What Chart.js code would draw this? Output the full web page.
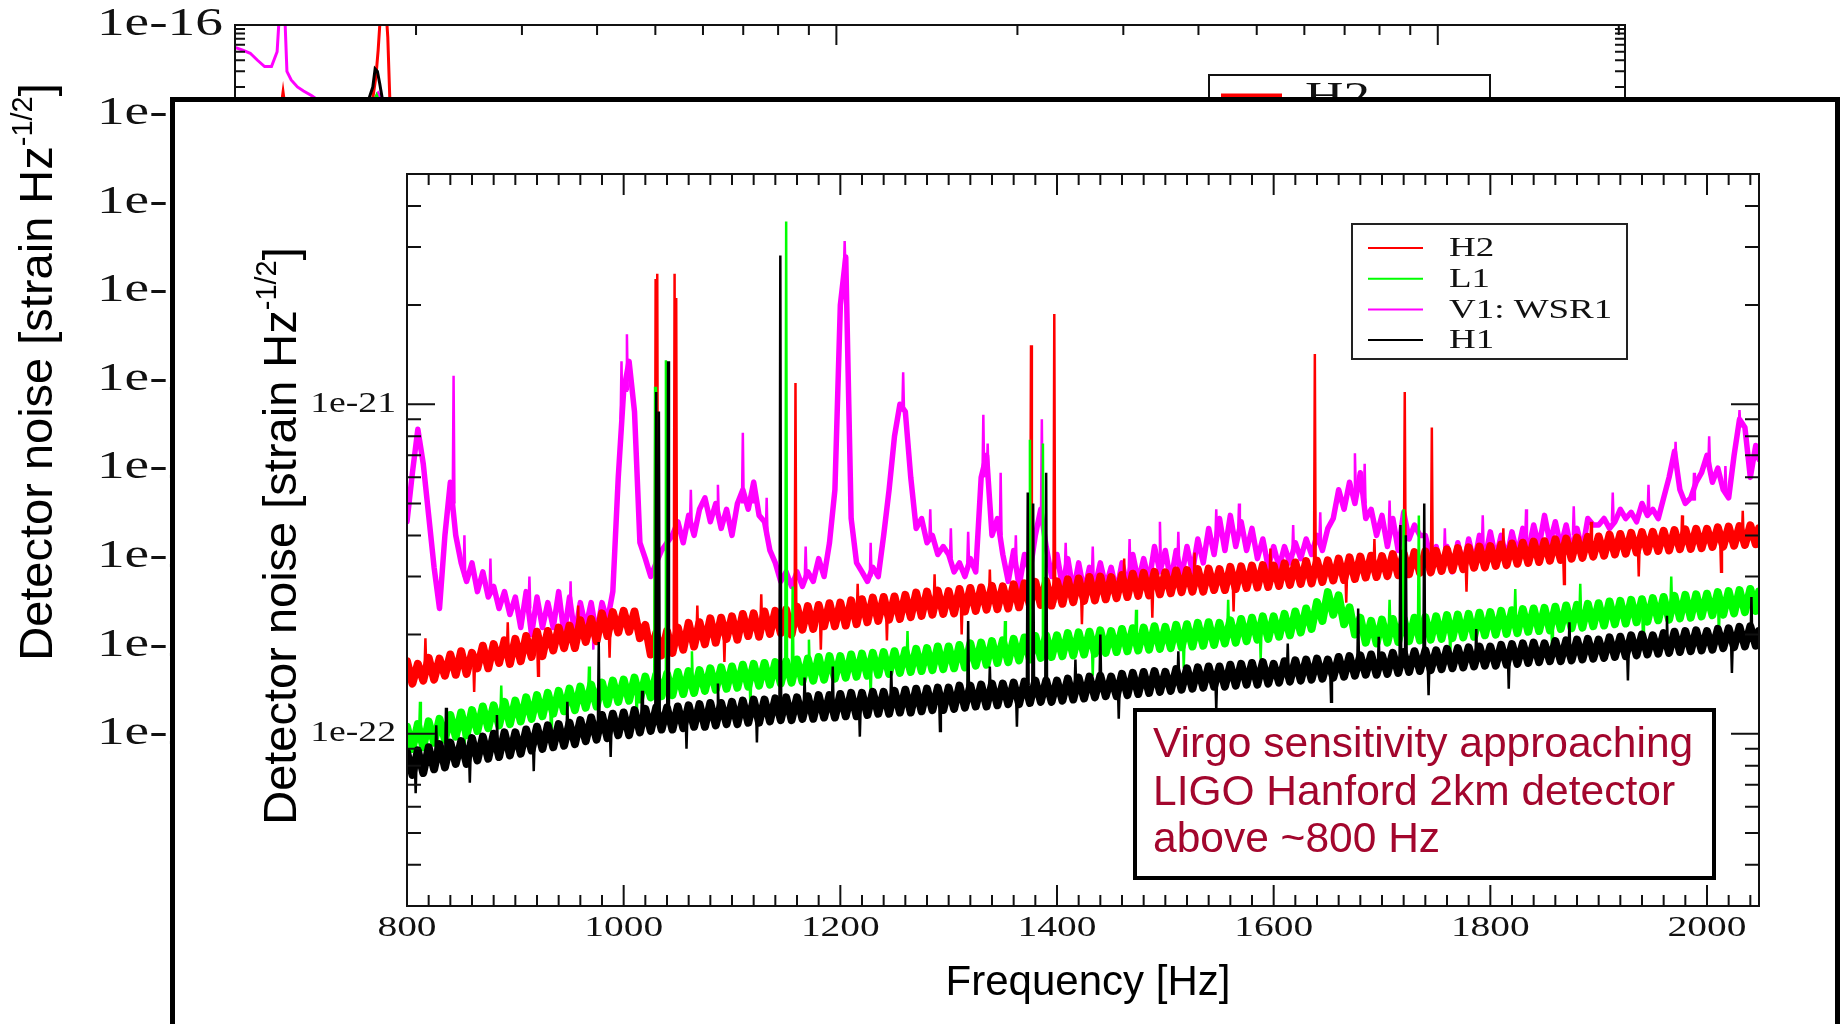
<!DOCTYPE html>
<html>
<head>
<meta charset="utf-8">
<script src="https://cdn.jsdelivr.net/npm/chart.js@4.4.1/dist/chart.umd.min.js"></script>
<style>
html,body{margin:0;padding:0;background:#fff;overflow:hidden;width:1841px;height:1024px;}
canvas{position:absolute;left:0;top:0;}
</style>
</head>
<body>
<canvas id="bg" width="1841" height="1024"></canvas>
<canvas id="fg" width="1841" height="1024"></canvas>
<script>
// ===================== DATA =====================
// Foreground (zoomed) spectrum, values in units of 1e-23 strain/sqrt(Hz)
const UNIT = 1e-23;
const freqHz = [
 800,805,810,815,820,825,830,835,840,845,850,855,860,865,870,875,880,885,890,895,
 900,905,910,915,920,925,930,935,940,945,950,955,960,965,970,975,980,985,990,995,
 1000,1005,1010,1015,1020,1025,1030,1035,1040,1045,1050,1055,1060,1065,1070,1075,1080,1085,1090,1095,
 1100,1105,1110,1115,1120,1125,1130,1135,1140,1145,1150,1155,1160,1165,1170,1175,1180,1185,1190,1195,
 1200,1205,1210,1215,1220,1225,1230,1235,1240,1245,1250,1255,1260,1265,1270,1275,1280,1285,1290,1295,
 1300,1305,1310,1315,1320,1325,1330,1335,1340,1345,1350,1355,1360,1365,1370,1375,1380,1385,1390,1395,
 1400,1405,1410,1415,1420,1425,1430,1435,1440,1445,1450,1455,1460,1465,1470,1475,1480,1485,1490,1495,
 1500,1505,1510,1515,1520,1525,1530,1535,1540,1545,1550,1555,1560,1565,1570,1575,1580,1585,1590,1595,
 1600,1605,1610,1615,1620,1625,1630,1635,1640,1645,1650,1655,1660,1665,1670,1675,1680,1685,1690,1695,
 1700,1705,1710,1715,1720,1725,1730,1735,1740,1745,1750,1755,1760,1765,1770,1775,1780,1785,1790,1795,
 1800,1805,1810,1815,1820,1825,1830,1835,1840,1845,1850,1855,1860,1865,1870,1875,1880,1885,1890,1895,
 1900,1905,1910,1915,1920,1925,1930,1935,1940,1945,1950,1955,1960,1965,1970,1975,1980,1985,1990,1995,
 2000,2005,2010,2015,2020,2025,2030,2035,2040,2045,2048
];
const h2Values = [
 16.6,14.2,16.3,14.5,17.0,14.6,16.9,15.0,17.4,15.1,17.8,15.2,17.6,15.8,18.5,15.8,18.7,16.4,19.2,16.3,
 19.4,16.6,19.8,17.1,20.4,17.2,20.5,17.9,21.0,18.2,21.3,18.2,22.1,19.0,22.3,19.1,23.2,19.8,23.4,20.3,
 23.6,20.4,23.5,19.5,21.4,17.4,20.2,17.3,20.5,17.6,21.0,18.0,21.7,18.4,21.8,18.7,22.4,18.9,22.5,19.4,
 22.7,19.3,23.1,19.8,23.2,19.7,23.5,20.1,23.6,20.2,23.8,20.0,24.3,20.7,24.4,20.8,24.6,21.2,24.9,21.2,
 25.0,21.3,25.4,21.5,25.6,21.8,25.9,22.0,26.0,22.2,26.1,22.3,26.4,22.6,26.8,22.8,27.0,23.0,27.2,23.1,
 27.1,23.2,27.5,23.5,27.7,23.6,27.8,23.8,28.1,23.9,28.0,24.0,28.4,24.2,28.6,24.5,28.9,24.6,29.1,24.5,
 29.0,24.8,29.4,25.1,29.6,25.3,29.9,25.4,30.0,25.6,29.9,25.8,30.3,26.0,30.6,26.2,30.8,26.3,31.0,26.5,
 30.9,26.7,31.3,26.9,31.4,27.0,31.6,27.0,31.7,27.3,31.6,27.3,32.1,27.5,32.2,27.7,32.4,27.8,32.5,27.9,
 32.4,28.1,32.9,28.3,33.1,28.5,33.4,28.6,33.5,28.9,33.6,29.2,34.0,29.3,34.3,29.5,34.5,29.8,34.7,29.9,
 34.6,30.1,35.1,30.3,35.3,30.5,35.6,30.8,35.8,30.9,35.9,31.2,36.3,31.4,36.6,31.6,36.8,31.9,37.0,32.0,
 37.1,32.3,37.5,32.5,37.8,32.8,38.0,33.0,38.3,33.2,38.4,33.5,38.9,33.7,39.1,34.0,39.4,34.2,39.6,34.5,
 39.7,34.7,40.2,35.0,40.4,35.2,40.7,35.5,40.9,35.7,41.0,35.9,41.3,36.0,41.5,36.3,41.7,36.4,41.9,36.6,
 41.9,36.9,42.3,37.0,42.5,37.2,42.7,37.4,42.9,37.6,42.0
];
const l1Values = [
 10.5,9.0,10.7,9.1,10.9,9.4,11.1,9.6,11.4,9.8,11.6,9.9,11.8,10.2,12.1,10.4,12.2,10.6,12.5,10.7,
 12.6,10.9,12.9,11.1,13.1,11.3,13.3,11.5,13.5,11.7,13.7,11.8,13.9,12.0,14.1,12.1,14.3,12.3,14.5,12.5,
 14.6,12.6,14.8,12.7,14.9,12.9,15.1,13.0,15.2,13.1,15.4,13.2,15.5,13.3,15.6,13.5,15.8,13.6,15.9,13.7,
 16.0,13.8,16.2,13.9,16.3,14.0,16.4,14.1,16.5,14.2,16.6,14.3,16.8,14.4,16.9,14.5,17.1,14.6,17.2,14.7,
 17.2,14.8,17.4,14.9,17.5,15.0,17.6,15.1,17.7,15.2,17.8,15.3,17.9,15.4,18.1,15.5,18.2,15.6,18.4,15.7,
 18.4,15.8,18.6,15.9,18.8,16.1,18.9,16.2,19.1,16.4,19.2,16.5,19.4,16.7,19.6,16.8,19.8,17.0,19.9,17.1,
 19.9,17.2,20.2,17.3,20.3,17.4,20.4,17.5,20.6,17.6,20.5,17.7,20.8,17.8,20.9,17.9,21.0,18.0,21.2,18.1,
 21.1,18.2,21.4,18.3,21.5,18.4,21.7,18.5,21.8,18.6,21.7,18.8,22.1,18.9,22.3,19.1,22.5,19.3,22.7,19.4,
 22.7,19.7,23.1,19.9,23.5,20.3,24.0,20.8,25.1,22.0,26.9,23.0,26.3,21.5,24.2,20.0,22.5,18.9,22.0,18.8,
 22.2,18.9,22.3,19.0,22.4,19.1,22.5,19.2,22.6,19.3,22.7,19.4,22.9,19.5,23.0,19.6,23.1,19.7,23.3,19.9,
 23.4,20.0,23.6,20.1,23.7,20.2,23.9,20.4,24.0,20.5,24.1,20.6,24.3,20.8,24.5,20.9,24.6,21.0,24.8,21.2,
 24.9,21.3,25.2,21.5,25.3,21.6,25.5,21.8,25.6,21.9,25.8,22.1,26.0,22.2,26.2,22.4,26.4,22.5,26.5,22.7,
 26.6,22.9,26.9,23.0,27.1,23.2,27.3,23.4,27.5,23.6,27.0
];
const v1Values = [
 44,62,84,66,46,32,24,40,58,40,33,29,33,27,31,26,28,24,27,23,
 26,21,27,20,26,21,25,21,27,20,26,20,25,21,25,20,25,22,27,60,
 110,135,95,38,34,30,33,36,38,40,44,38,46,40,48,52,44,50,42,48,
 40,50,55,48,58,46,44,36,33,29,31,28,31,28,31,29,34,30,38,55,
 200,280,45,33,31,29,32,30,40,55,80,100,95,60,42,45,38,40,35,37,
 35,31,33,30,34,31,60,70,40,45,35,29,36,28,35,31,40,48,37,30,
 35,28,34,27,33,27,32,28,33,28,32,27,33,28,35,29,34,29,37,31,
 36,29,36,30,37,31,39,33,42,35,45,36,46,37,44,36,42,34,39,32,
 37,32,37,33,38,34,39,35,40,36,42,45,55,48,58,50,62,45,48,40,
 46,37,45,36,47,39,43,40,40,34,37,31,37,31,38,32,39,33,40,34,
 41,34,40,34,41,35,42,36,43,37,46,38,44,37,43,36,42,36,45,43,
 43,45,42,44,48,45,47,44,50,46,48,45,52,60,72,55,50,52,58,62,
 70,58,64,55,52,70,90,85,60,75,68
];
const h1Values = [
 8.8,7.5,8.9,7.6,9.1,7.8,9.3,7.9,9.4,8.1,9.5,8.1,9.7,8.3,9.8,8.4,10.0,8.5,10.1,8.6,
 10.1,8.7,10.3,8.9,10.5,9.0,10.6,9.1,10.7,9.2,10.8,9.3,11.0,9.5,11.2,9.6,11.4,9.7,11.5,9.9,
 11.6,9.9,11.8,10.1,11.9,10.2,12.0,10.3,12.0,10.3,12.1,10.4,12.2,10.5,12.3,10.5,12.4,10.6,12.4,10.7,
 12.5,10.7,12.6,10.8,12.7,10.8,12.7,10.9,12.8,11.0,12.9,11.0,12.9,11.1,13.0,11.1,13.1,11.2,13.1,11.2,
 13.2,11.3,13.3,11.3,13.3,11.4,13.4,11.5,13.4,11.5,13.5,11.6,13.6,11.6,13.7,11.7,13.7,11.8,13.8,11.8,
 13.8,11.9,14.0,12.0,14.0,12.1,14.1,12.1,14.2,12.2,14.2,12.3,14.3,12.3,14.4,12.4,14.5,12.5,14.5,12.5,
 14.5,12.6,14.7,12.7,14.8,12.8,14.9,12.9,15.0,13.0,14.9,13.0,15.2,13.1,15.3,13.2,15.4,13.3,15.5,13.4,
 15.4,13.5,15.7,13.6,15.8,13.7,15.9,13.8,16.0,13.9,16.0,13.9,16.2,14.0,16.3,14.1,16.4,14.1,16.5,14.2,
 16.3,14.3,16.6,14.4,16.7,14.5,16.8,14.6,16.9,14.7,16.8,14.8,17.1,14.9,17.2,15.0,17.3,15.1,17.4,15.1,
 17.3,15.2,17.6,15.3,17.7,15.4,17.8,15.5,17.9,15.6,17.9,15.7,18.1,15.8,18.2,15.9,18.3,16.0,18.4,16.1,
 18.4,16.1,18.6,16.2,18.7,16.3,18.8,16.4,18.9,16.5,18.8,16.6,19.1,16.6,19.2,16.7,19.3,16.8,19.4,16.9,
 19.3,17.0,19.6,17.1,19.7,17.2,19.9,17.3,20.0,17.4,19.9,17.5,20.2,17.6,20.4,17.7,20.5,17.8,20.6,17.9,
 20.5,18.0,20.8,18.2,20.9,18.3,21.1,18.4,21.2,18.5,20.5
];
// Narrow lines and noise excursions: [frequency Hz, floor value, line value] in units of 1e-23
const h2Lines = [[1029.5,19,240],[1031,19,249],[1047,19,249],[1048.5,19,210],[1158.6,21,116],[1376,25,151],[1397.5,25,188],[1638,30,142],[1721,33,109],[1746,33,85],
 [817,15.7,19.5],[862,16.6,13.4],[893,17.6,21.8],[921,18.5,15.0],[958,19.7,24.5],[987,21.2,17.0],[1068,19.8,24.5],[1093,20.6,16.5],[1127,21.3,26.5],[1182,22.5,18.0],
 [1216,23.2,28.5],[1243,23.8,19.2],[1287,24.6,30.5],[1312,25.1,20.0],[1338,25.5,31.5],[1423,26.9,21.5],[1462,27.6,34.0],[1488,28.1,22.5],[1527,28.7,35.5],[1563,29.2,23.5],
 [1597,29.7,36.5],[1667,31.0,25.0],[1693,31.6,39.0],[1778,33.4,27.0],[1812,34.1,42.0],[1868,35.4,28.5],[1893,36.0,44.0],[1937,37.1,30.0],[1977,37.9,46.0],[2013,38.6,31.0],[2033,39.0,47.5]];
const l1Lines = [[1029,14,113],[1039,14,136],[1150,15.5,359],[1156,15,28],[1375,18,78],[1387,18,76],[1720,21,48],[1734,21,46],
 [812,10.0,12.5],[853,10.7,8.7],[887,11.4,14.0],[933,12.2,9.8],[968,12.9,16.0],[1012,13.7,11.0],[1063,14.3,17.8],[1117,15.0,12.0],[1171,15.6,19.3],[1228,16.2,13.0],
 [1262,16.6,20.5],[1318,17.3,13.8],[1352,17.7,22.0],[1433,18.8,15.0],[1473,19.2,23.8],[1517,19.7,15.8],[1558,20.3,25.5],[1588,20.8,16.8],[1707,20.6,25.5],[1763,21.3,17.0],
 [1823,22.1,27.5],[1857,22.5,18.0],[1883,22.9,28.5],[1941,23.6,19.0],[1967,24.1,30.0],[2011,24.9,20.0]];
const v1Lines = [[843,50,122],[998,90,135],[1003,110,163],[1110,50,82],[1120,50,59],[1204,250,313],[1258,95,125],[1332,60,93],[1336,60,76],[1348,40,62],[1386,45,90],[1495,34,44],[1675,55,71],[1684,50,66],[1971,65,77],[2002,65,80],[2030,85,96],
 [853,30,40],[877,27,34],[913,24,30],[951,23,29],[972,23,18],[1062,43,55],[1087,46,57],[1132,40,52],[1168,30,37],[1228,30,38],[1283,39,48],[1302,34,42],[1318,33,41],
 [1362,32,40],[1408,31,38],[1433,30,37],[1467,31,39],[1512,33,41],[1547,39,48],[1568,41,50],[1618,35,43],[1643,38,47],[1707,41,51],[1758,34,42],[1793,37,46],[1833,39,48],
 [1877,40,49],[1913,44,54],[1946,47,57],[1988,51,62],[2017,54,65]];
const h1Lines = [[836,8.5,12],[977,10.5,19],[1030,11,109],[1032.5,11,95],[1041,11,135],[1144.6,12,283],[1193,12,16],[1318,13,22],[1373,14,54],[1378,14,50],[1390,14,62],[1440,14,20],[1678,16,24],[1717,16,43],[1722,16,40],[1739,16,50],[2041,19,26],
 [808,8.3,6.6],[827,8.5,10.6],[858,8.9,7.1],[883,9.2,11.4],[917,9.6,7.7],[948,10.0,12.5],[988,10.6,8.5],[1017,11.0,13.5],[1058,11.3,9.0],[1087,11.5,14.2],[1123,11.8,9.4],
 [1167,12.0,14.8],[1218,12.3,9.8],[1247,12.5,15.5],[1292,12.8,10.2],[1338,13.0,16.0],[1363,13.2,10.5],[1417,13.5,16.8],[1457,13.9,11.1],[1512,14.4,17.8],[1547,14.7,11.8],
 [1613,15.2,18.8],[1653,15.6,12.5],[1697,16.0,19.7],[1743,16.4,13.1],[1787,16.8,20.8],[1817,17.1,13.7],[1873,17.6,21.8],[1927,18.1,14.5],[1963,18.5,22.8],[2023,19.1,15.3]];

const seriesLabels = ['H2','L1','V1: WSR1','H1'];
const seriesColors = ['#ff0000','#00ff00','#ff00ff','#000000'];

const xTickValues = [800,1000,1200,1400,1600,1800,2000];
const xTickLabels = ['800','1000','1200','1400','1600','1800','2000'];
const yTickValues = [1e-21,1e-22];
const yTickLabels = ['1e-21','1e-22'];

const noteLines = ['Virgo sensitivity approaching','LIGO Hanford 2km detector','above ~800 Hz'];

// Background (full-band) chart: only its top strip is visible
const bgV1Freq = [10,10.3,10.6,10.9,11.2,11.5,11.75,11.85,12.1,12.2,12.4,12.7,13.0,13.4,14.0,16.9,17.3,17.7,19.0];
const bgV1Vals = [5.6e-17,5.2e-17,4.8e-17,4.0e-17,3.4e-17,3.4e-17,5.0e-17,1.3e-16,1.3e-16,3.0e-17,2.4e-17,2.0e-17,1.8e-17,1.6e-17,1.3e-17,1.3e-17,1.7e-17,1.3e-17,1.2e-17];
const bgH2Freq = [11.5,11.95,12.02,12.09,12.5,16.9,17.15,17.3,17.45,17.85,17.95,18.1,18.5];
const bgH2Vals = [1.3e-17,1.3e-17,1.75e-17,1.3e-17,1.3e-17,1.3e-17,2.6e-17,5.2e-17,1.3e-16,1.3e-16,7.3e-17,1.3e-17,1.2e-17];
const bgH1Freq = [16.6,16.95,17.1,17.25,17.4,17.6,17.9];
const bgH1Vals = [1.3e-17,2.0e-17,3.2e-17,3.0e-17,2.2e-17,1.4e-17,1.2e-17];
const bgL1Freq = [16.9,17.2,17.5];
const bgL1Vals = [1.2e-17,1.6e-17,1.2e-17];
const bgYTickValues = [1e-16,1e-17,1e-18,1e-19,1e-20,1e-21,1e-22,1e-23,1e-24];
const bgYTickLabels = ['1e-16','1e-17','1e-18','1e-19','1e-20','1e-21','1e-22','1e-23','1e-24'];

// ===================== HELPERS =====================
const SERIF = '"Liberation Serif","Times New Roman",serif';
const SANS = '"Liberation Sans",Arial,sans-serif';

function buildBand(freqs, vals) {
  return freqs.map((f, i) => ({x: f, y: vals[i] * UNIT}));
}
function buildSpikes(lines) {
  const pts = [];
  lines.slice().sort((a, b) => a[0] - b[0]).forEach(([f, base, peak]) => {
    pts.push({x: f - 0.8, y: base * UNIT}, {x: f, y: peak * UNIT}, {x: f + 0.8, y: base * UNIT}, {x: f + 0.85, y: null});
  });
  return pts;
}
function pairs(fs, vs) { return fs.map((f, i) => ({x: f, y: vs[i]})); }

function stretchText(ctx, text, x, y, sx, align) {
  ctx.save();
  ctx.translate(x, y);
  ctx.scale(sx, 1);
  ctx.textAlign = align;
  ctx.fillText(text, 0, 0);
  ctx.restore();
}
function drawYTitle(ctx, cx, cy, size) {
  ctx.save();
  ctx.translate(cx, cy);
  ctx.rotate(-Math.PI / 2);
  ctx.fillStyle = '#000';
  ctx.textBaseline = 'alphabetic';
  ctx.textAlign = 'left';
  const main = 'Detector noise [strain Hz', sup = '-1/2', end = ']';
  const supSize = Math.round(size * 0.62);
  ctx.font = size + 'px ' + SANS;
  const w1 = ctx.measureText(main).width, w3 = ctx.measureText(end).width;
  ctx.font = supSize + 'px ' + SANS;
  const w2 = ctx.measureText(sup).width;
  let x = -(w1 + w2 + w3) / 2;
  const base = size * 0.36;
  ctx.font = size + 'px ' + SANS;
  ctx.fillText(main, x, base); x += w1;
  ctx.font = supSize + 'px ' + SANS;
  ctx.fillText(sup, x, base - size * 0.42); x += w2;
  ctx.font = size + 'px ' + SANS;
  ctx.fillText(end, x, base);
  ctx.restore();
}

// ===================== BACKGROUND CHART =====================
const bgDecor = {
  id: 'bgDecor',
  afterDatasetsDraw(chart) {
    const ctx = chart.ctx, a = chart.chartArea, xs = chart.scales.x, ys = chart.scales.y;
    ctx.save();
    ctx.strokeStyle = '#111';
    ctx.lineWidth = 2;
    ctx.strokeRect(a.left, a.top, a.right - a.left, a.bottom - a.top);
    ctx.beginPath();
    for (let e = 1; e <= 3; e++) for (let m = 1; m <= 9; m++) {
      const v = m * Math.pow(10, e);
      if (v <= 10 || v > 2048) continue;
      const px = xs.getPixelForValue(v);
      const len = m === 1 ? 20 : 10;
      ctx.moveTo(px, a.top); ctx.lineTo(px, a.top + len);
      ctx.moveTo(px, a.bottom); ctx.lineTo(px, a.bottom - len);
    }
    for (let e = -24; e <= -17; e++) for (let m = 1; m <= 9; m++) {
      const v = m * Math.pow(10, e);
      const py = ys.getPixelForValue(v);
      const len = m === 1 ? 20 : 10;
      ctx.moveTo(a.left, py); ctx.lineTo(a.left + len, py);
      ctx.moveTo(a.right, py); ctx.lineTo(a.right - len, py);
    }
    ctx.stroke();
    ctx.fillStyle = '#111';
    ctx.font = '39px ' + SERIF;
    ctx.textBaseline = 'middle';
    bgYTickValues.forEach((v, i) => {
      stretchText(ctx, bgYTickLabels[i], a.left - 12, ys.getPixelForValue(v), 1.42, 'right');
    });
    drawYTitle(ctx, 35, 372, 47);
    ctx.fillStyle = '#fff';
    ctx.fillRect(1209, 75, 281, 130);
    ctx.strokeStyle = '#111';
    ctx.lineWidth = 2;
    ctx.strokeRect(1209, 75, 281, 130);
    chart.data.datasets.forEach((ds, i) => {
      const y = 96 + i * 38;
      ctx.strokeStyle = ds.borderColor;
      ctx.lineWidth = 5;
      ctx.beginPath(); ctx.moveTo(1221, y); ctx.lineTo(1282, y); ctx.stroke();
      ctx.fillStyle = '#111';
      ctx.font = '38px ' + SERIF;
      ctx.textBaseline = 'middle';
      stretchText(ctx, ds.label, 1305, y + 2, 1.4, 'left');
    });
    ctx.restore();
  }
};

new Chart(document.getElementById('bg'), {
  type: 'line',
  data: {
    datasets: [
      {label: seriesLabels[0], data: pairs(bgH2Freq, bgH2Vals), borderColor: seriesColors[0], order: 2},
      {label: seriesLabels[1], data: pairs(bgL1Freq, bgL1Vals), borderColor: seriesColors[1], order: 1},
      {label: seriesLabels[2], data: pairs(bgV1Freq, bgV1Vals), borderColor: seriesColors[2], order: 3},
      {label: seriesLabels[3], data: pairs(bgH1Freq, bgH1Vals), borderColor: seriesColors[3], order: 0}
    ]
  },
  options: {
    responsive: false, animation: false, devicePixelRatio: 1, events: [],
    layout: {padding: {left: 235, top: 25, right: 216, bottom: 290}},
    elements: {point: {radius: 0}, line: {borderWidth: 3, tension: 0}},
    plugins: {legend: {display: false}, tooltip: {enabled: false}},
    scales: {
      x: {type: 'logarithmic', min: 10, max: 2048, display: false},
      y: {type: 'logarithmic', min: 1e-24, max: 1e-16, display: false}
    }
  },
  plugins: [bgDecor]
});

// ===================== FOREGROUND CHART =====================
const fgDecor = {
  id: 'fgDecor',
  beforeDraw(chart) {
    const ctx = chart.ctx;
    ctx.save();
    ctx.fillStyle = '#fff';
    ctx.fillRect(172, 99, 1668, 1000);
    ctx.strokeStyle = '#000';
    ctx.lineWidth = 5;
    ctx.strokeRect(172.5, 99.5, 1665, 1000);
    ctx.restore();
  },
  afterDatasetsDraw(chart) {
    const ctx = chart.ctx, a = chart.chartArea, xs = chart.scales.x, ys = chart.scales.y;
    ctx.save();
    ctx.strokeStyle = '#111';
    ctx.lineWidth = 2;
    ctx.strokeRect(a.left, a.top, a.right - a.left, a.bottom - a.top);
    ctx.beginPath();
    for (let f = 820; f <= 2040; f += 20) {
      const px = xs.getPixelForValue(f);
      const len = f % 200 === 0 ? 21 : 11;
      ctx.moveTo(px, a.bottom); ctx.lineTo(px, a.bottom - len);
      ctx.moveTo(px, a.top); ctx.lineTo(px, a.top + len);
    }
    for (let e = -23; e <= -21; e++) for (let m = 1; m <= 9; m++) {
      const v = m * Math.pow(10, e);
      if (v < 2.99e-23 || v > 4.99e-21) continue;
      const py = ys.getPixelForValue(v);
      const len = m === 1 ? 28 : 14;
      ctx.moveTo(a.left, py); ctx.lineTo(a.left + len, py);
      ctx.moveTo(a.right, py); ctx.lineTo(a.right - len, py);
    }
    ctx.stroke();

    ctx.fillStyle = '#111';
    ctx.font = '29px ' + SERIF;
    ctx.textBaseline = 'middle';
    xTickValues.forEach((v, i) => stretchText(ctx, xTickLabels[i], xs.getPixelForValue(v), a.bottom + 22, 1.36, 'center'));
    yTickValues.forEach((v, i) => stretchText(ctx, yTickLabels[i], a.left - 11, ys.getPixelForValue(v), 1.3, 'right'));

    ctx.fillStyle = '#000';
    ctx.font = '42px ' + SANS;
    ctx.textAlign = 'center';
    ctx.textBaseline = 'alphabetic';
    ctx.fillText('Frequency [Hz]', 1088, 995);
    drawYTitle(ctx, 279, 536, 47);

    ctx.fillStyle = '#fff';
    ctx.fillRect(1352, 224, 275, 135);
    ctx.strokeStyle = '#222';
    ctx.lineWidth = 2;
    ctx.strokeRect(1352, 224, 275, 135);
    for (let i = 0; i < seriesLabels.length; i++) {
      const y = 248 + i * 30.7;
      ctx.strokeStyle = seriesColors[i];
      ctx.lineWidth = 2;
      ctx.beginPath(); ctx.moveTo(1368, y); ctx.lineTo(1423, y); ctx.stroke();
      ctx.fillStyle = '#111';
      ctx.font = '28px ' + SERIF;
      ctx.textBaseline = 'middle';
      stretchText(ctx, seriesLabels[i], 1449, y + 1, 1.32, 'left');
    }

    ctx.fillStyle = '#fff';
    ctx.fillRect(1135, 710, 579, 168);
    ctx.strokeStyle = '#000';
    ctx.lineWidth = 4;
    ctx.strokeRect(1135, 710, 579, 168);
    ctx.fillStyle = '#a3062d';
    ctx.font = '42.5px ' + SANS;
    ctx.textAlign = 'left';
    ctx.textBaseline = 'alphabetic';
    noteLines.forEach((t, i) => ctx.fillText(t, 1153, 757 + i * 47.5));
    ctx.restore();
  }
};

const bandStyle = {borderJoinStyle: 'round', borderCapStyle: 'round'};
new Chart(document.getElementById('fg'), {
  type: 'line',
  data: {
    datasets: [
      Object.assign({label: seriesLabels[0], data: buildBand(freqHz, h2Values), borderColor: seriesColors[0], borderWidth: 8, order: 2}, bandStyle),
      Object.assign({label: seriesLabels[1], data: buildBand(freqHz, l1Values), borderColor: seriesColors[1], borderWidth: 8, order: 1}, bandStyle),
      Object.assign({label: seriesLabels[2], data: buildBand(freqHz, v1Values), borderColor: seriesColors[2], borderWidth: 5.5, order: 3}, bandStyle),
      Object.assign({label: seriesLabels[3], data: buildBand(freqHz, h1Values), borderColor: seriesColors[3], borderWidth: 8, order: 0}, bandStyle),
      {label: seriesLabels[0] + ' lines', data: buildSpikes(h2Lines), borderColor: seriesColors[0], borderWidth: 2.5, spanGaps: false, order: 2},
      {label: seriesLabels[1] + ' lines', data: buildSpikes(l1Lines), borderColor: seriesColors[1], borderWidth: 2.5, spanGaps: false, order: 1},
      {label: seriesLabels[2] + ' lines', data: buildSpikes(v1Lines), borderColor: seriesColors[2], borderWidth: 2.5, spanGaps: false, order: 3},
      {label: seriesLabels[3] + ' lines', data: buildSpikes(h1Lines), borderColor: seriesColors[3], borderWidth: 2.5, spanGaps: false, order: 0}
    ]
  },
  options: {
    responsive: false, animation: false, devicePixelRatio: 1, events: [],
    layout: {padding: {left: 407, top: 174, right: 82, bottom: 118}},
    elements: {point: {radius: 0}, line: {borderWidth: 2, tension: 0}},
    plugins: {legend: {display: false}, tooltip: {enabled: false}},
    scales: {
      x: {type: 'linear', min: 800, max: 2048, display: false},
      y: {type: 'logarithmic', min: 3e-23, max: 5e-21, display: false}
    }
  },
  plugins: [fgDecor]
});
</script>
</body>
</html>
